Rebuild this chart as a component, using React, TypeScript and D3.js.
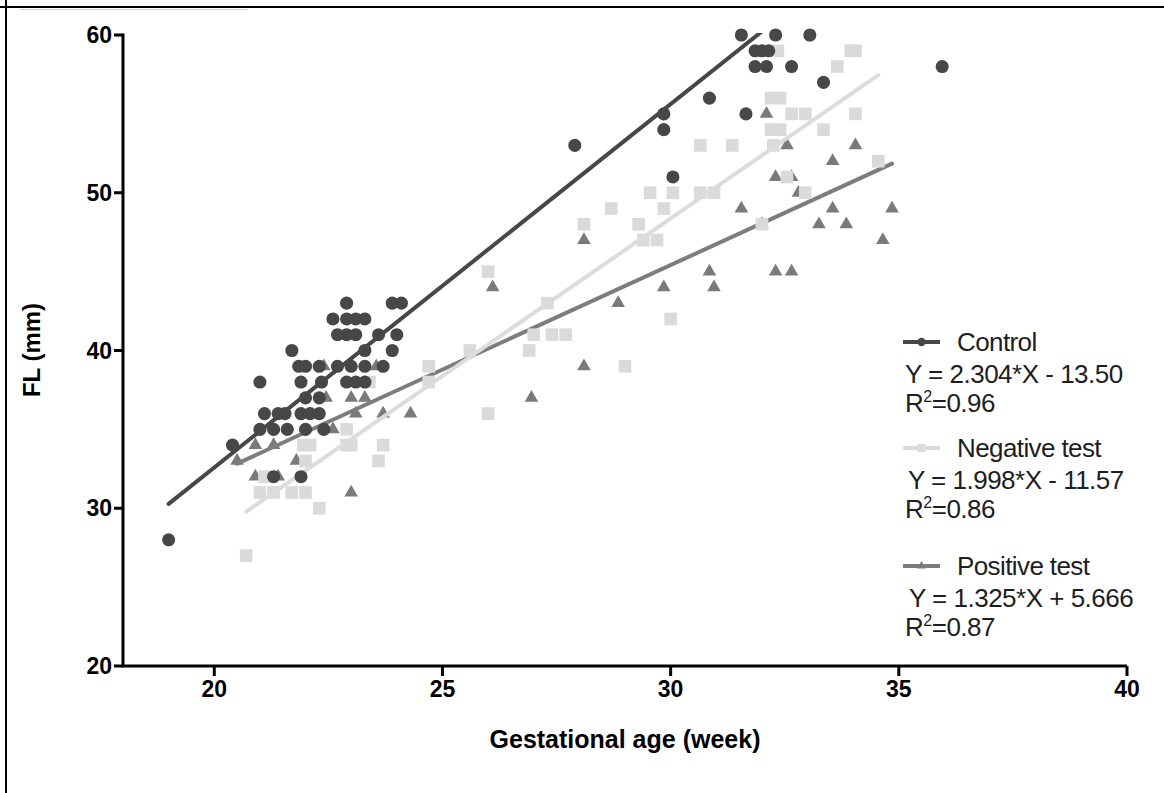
import * as d3 from "d3";

// gestational age (week), FL (mm)
const controlX = [19.0, 20.4, 21.0, 21.0, 21.3, 21.6, 22.0, 22.4, 21.1, 21.4, 21.55, 21.9, 22.1, 22.3, 22.0, 22.3, 21.9, 22.35, 22.9, 23.1, 23.3, 21.85, 22.0, 22.3, 22.7, 23.0, 23.3, 23.7, 21.7, 23.3, 23.9, 22.7, 22.9, 23.1, 23.6, 24.0, 22.6, 22.9, 23.1, 23.3, 22.9, 23.9, 24.1, 21.3, 21.9, 27.9, 29.85, 29.85, 30.05, 30.85, 31.65, 31.55, 32.3, 33.05, 31.85, 32.0, 32.15, 31.85, 32.1, 32.65, 33.35, 35.95];
const controlY = [28, 34, 38, 35, 35, 35, 35, 35, 36, 36, 36, 36, 36, 36, 37, 37, 38, 38, 38, 38, 38, 39, 39, 39, 39, 39, 39, 39, 40, 40, 40, 41, 41, 41, 41, 41, 42, 42, 42, 42, 43, 43, 43, 32, 32, 53, 55, 54, 51, 56, 55, 60, 60, 60, 59, 59, 59, 58, 58, 58, 57, 58];

const negativeX = [20.7, 21.0, 21.3, 21.7, 22.0, 22.3, 21.1, 22.0, 23.6, 21.95, 22.1, 22.9, 23.0, 23.7, 22.9, 23.4, 24.7, 24.7, 25.6, 26.0, 26.0, 26.9, 27.0, 27.4, 27.7, 27.3, 29.0, 30.0, 28.1, 28.7, 29.3, 29.4, 29.7, 29.85, 29.55, 30.05, 30.65, 30.95, 30.65, 31.35, 32.0, 32.25, 32.2, 32.4, 33.35, 32.65, 32.95, 34.05, 32.2, 32.4, 32.55, 32.95, 34.55, 33.65, 32.35, 33.95, 34.05];
const negativeY = [27, 31, 31, 31, 31, 30, 32, 33, 33, 34, 34, 34, 34, 34, 35, 38, 38, 39, 40, 36, 45, 40, 41, 41, 41, 43, 39, 42, 48, 49, 48, 47, 47, 49, 50, 50, 50, 50, 53, 53, 48, 53, 54, 54, 54, 55, 55, 55, 56, 56, 51, 50, 52, 58, 59, 59, 59];

const positiveX = [20.5, 20.9, 21.3, 20.9, 21.4, 21.8, 22.4, 22.45, 22.6, 23.0, 23.3, 23.1, 23.7, 24.3, 23.0, 23.55, 26.1, 26.95, 28.1, 28.1, 28.85, 29.85, 30.85, 30.95, 31.55, 32.0, 32.1, 32.3, 32.3, 32.65, 32.55, 32.65, 32.8, 33.25, 33.55, 33.55, 33.85, 34.05, 34.65, 34.85];
const positiveY = [33, 34, 34, 32, 32, 33, 39, 37, 35, 37, 37, 36, 36, 36, 31, 39, 44, 37, 39, 47, 43, 44, 45, 44, 49, 48, 55, 51, 45, 45, 53, 51, 50, 48, 52, 49, 48, 53, 47, 49];

// linear fits as printed on the chart
const fits = [
  { name: "Control", slope: 2.304, intercept: -13.5, eq: "Y = 2.304*X - 13.50", r2: "0.96" },
  { name: "Negative test", slope: 1.998, intercept: -11.57, eq: "Y = 1.998*X - 11.57", r2: "0.86" },
  { name: "Positive test", slope: 1.325, intercept: 5.666, eq: "Y = 1.325*X + 5.666", r2: "0.87" },
];

const xTicks = [20, 25, 30, 35, 40];
const yTicks = [20, 30, 40, 50, 60];

const W = 1164;
const H = 793;
const font = "'Liberation Sans', Arial, sans-serif";

const x = d3.scaleLinear().domain([18, 40]).range([123, 1127]);
const y = d3.scaleLinear().domain([20, 60]).range([666, 35]);

const styles = {
  Control: { fill: "#474747", line: "#474747", symbol: d3.symbolCircle, size: 135 },
  "Negative test": { fill: "#dadada", line: "#dcdcdc", symbol: d3.symbolSquare, size: 160 },
  "Positive test": { fill: "#7a7a7a", line: "#7d7d7d", symbol: d3.symbolTriangle, size: 80 },
};

const series = [
  { fit: fits[2], xs: positiveX, ys: positiveY },
  { fit: fits[1], xs: negativeX, ys: negativeY },
  { fit: fits[0], xs: controlX, ys: controlY },
];

export default function App() {
  return (
    <svg width={W} height={H} style={{ position: "absolute", left: 0, top: 0, background: "#fff" }} fontFamily={font}>
      <defs>
        <clipPath id="plot">
          <rect x={x(18)} y={y(60) - 2} width={x(40) - x(18)} height={y(20) - y(60) + 2} />
        </clipPath>
      </defs>

      {/* frame */}
      <line x1={0} x2={W} y1={7} y2={7} stroke="#000" strokeWidth={2} />
      <line x1={6} x2={6} y1={0} y2={H} stroke="#000" strokeWidth={2} />
      <line x1={20} x2={248} y1={9.5} y2={9.5} stroke="#d0d0d0" strokeWidth={1} />

      {/* data */}
      {series.map((s) => {
        const st = styles[s.fit.name as keyof typeof styles];
        const sym = d3.symbol().type(st.symbol).size(st.size)();
        const [x0, x1] = d3.extent(s.xs) as [number, number];
        const fx = (v: number) => s.fit.slope * v + s.fit.intercept;
        const path = d3.line<number>().x((d) => x(d)).y((d) => y(fx(d)))([x0, x1]);
        return (
          <g key={s.fit.name}>
            {s.xs.map((v, i) => (
              <path key={i} d={sym ?? ""} transform={`translate(${x(v)},${y(s.ys[i])})`} fill={st.fill} />
            ))}
            <path d={path ?? ""} stroke={st.line} strokeWidth={4} fill="none" strokeLinecap="round" clipPath="url(#plot)" />
          </g>
        );
      })}

      {/* axes */}
      <g stroke="#000" strokeWidth={3} fill="none">
        <path d={`M${x(18)},${y(60) - 1.5}V${y(20)}H${x(40)}`} />
        {yTicks.map((t) => (
          <line key={t} x1={x(18) - 9} x2={x(18)} y1={y(t)} y2={y(t)} />
        ))}
        {xTicks.map((t) => (
          <line key={t} x1={x(t)} x2={x(t)} y1={y(20)} y2={y(20) + 10} />
        ))}
      </g>
      <g fontWeight="bold" fontSize={23} fill="#000">
        {yTicks.map((t) => (
          <text key={t} x={x(18) - 11} y={y(t)} dy="0.35em" textAnchor="end">{t}</text>
        ))}
        {xTicks.map((t) => (
          <text key={t} x={x(t)} y={y(20) + 31} textAnchor="middle">{t}</text>
        ))}
      </g>
      <text x={(x(18) + x(40)) / 2} y={748} textAnchor="middle" fontWeight="bold" fontSize={25}>
        Gestational age (week)
      </text>
      <text transform={`translate(40,350) rotate(-90)`} textAnchor="middle" fontWeight="bold" fontSize={24}>
        FL (mm)
      </text>

      {/* legend */}
      {fits.map((f, i) => {
        const st = styles[f.name as keyof typeof styles];
        const base = [351, 457, 575][i];
        const eqX = [905, 908, 909][i];
        const ly = base - 9;
        const sym = d3.symbol().type(st.symbol).size(st.size * 0.4)();
        return (
          <g key={f.name} fill="#1e1e1e" fontSize={26}>
            <line x1={903} x2={940} y1={ly} y2={ly} stroke={st.line} strokeWidth={4} />
            <path d={sym ?? ""} transform={`translate(921.5,${ly})`} fill={st.fill} />
            <text x={957} y={base} letterSpacing={-0.6}>{f.name}</text>
            <text x={eqX} y={base + 32} letterSpacing={-0.5}>{f.eq}</text>
            <text x={905} y={base + 61} letterSpacing={-0.5}>
              R<tspan fontSize={16} dy={-10}>2</tspan>
              <tspan dy={10}>={f.r2}</tspan>
            </text>
          </g>
        );
      })}
    </svg>
  );
}
